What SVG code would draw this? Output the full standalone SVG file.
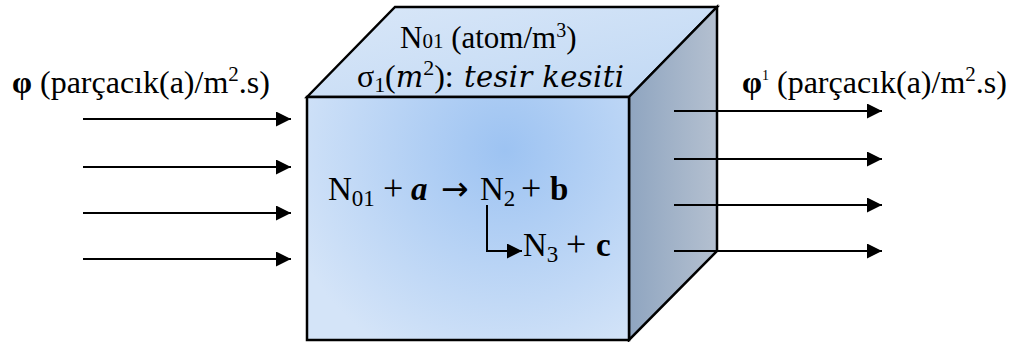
<svg xmlns="http://www.w3.org/2000/svg" width="1013" height="342" viewBox="0 0 1013 342">
<style>
.t{font-family:"Liberation Serif","Times New Roman",serif;fill:#000}
.m{font-family:"DejaVu Serif","Liberation Serif",serif;font-style:italic}
.ln{stroke:#000;stroke-width:2;fill:none}
.edge{stroke:#000;stroke-width:2.5;stroke-linejoin:miter}
</style>
<defs>
<marker id="ah" markerWidth="16" markerHeight="16" refX="15" refY="7.5" orient="auto" markerUnits="userSpaceOnUse">
<path d="M0,0 L15,7.5 L0,15 Z" fill="#000"/>
</marker>
<radialGradient id="gFront" cx="505" cy="150" r="230" gradientUnits="userSpaceOnUse">
<stop offset="0" stop-color="#9dc3f2"/>
<stop offset="1" stop-color="#d4e4f8"/>
</radialGradient>
<linearGradient id="gTop" x1="0" y1="0" x2="1" y2="1">
<stop offset="0" stop-color="#d9e7f8"/>
<stop offset="1" stop-color="#c0d8f4"/>
</linearGradient>
<linearGradient id="gSide" x1="0" y1="0" x2="1" y2="0">
<stop offset="0" stop-color="#8fa5c0"/>
<stop offset="1" stop-color="#b4c0d0"/>
</linearGradient>
</defs>
<g id="cube">
<polygon class="edge" points="307,97 395,7 717,7 629,97" fill="url(#gTop)"/>
<polygon class="edge" points="629,97 717,7 717,251 629,340" fill="url(#gSide)"/>
<rect class="edge" x="307" y="97" width="322" height="243" fill="url(#gFront)"/>
</g>
<g id="cube-labels">
<text class="t" x="400" y="48" font-size="31">N<tspan font-size="21">01</tspan> (atom/m<tspan font-size="20" dy="-11">3</tspan><tspan dy="11">)</tspan></text>
<text class="t" y="87" font-size="32"><tspan x="357">σ</tspan><tspan font-size="22" dy="5">1</tspan><tspan dy="-5" x="385">(</tspan><tspan class="m" font-size="29">m</tspan><tspan font-size="22" dy="-12">2</tspan><tspan dy="12">):</tspan><tspan x="464" class="m" font-size="29" textLength="160" lengthAdjust="spacing">tesir kesiti</tspan></text>
</g>
<g id="reaction">
<text class="t" y="200" font-size="33"><tspan x="328">N</tspan><tspan font-size="23" dy="6">01</tspan><tspan x="383" dy="-6" font-size="36">+</tspan><tspan x="411" font-weight="bold" font-style="italic">a</tspan><tspan x="441" font-family="DejaVu Sans, sans-serif" font-size="33">→</tspan><tspan x="480">N</tspan><tspan font-size="23" dy="6">2</tspan><tspan x="521" dy="-6" font-size="36">+</tspan><tspan x="550" font-weight="bold">b</tspan></text>
<text class="t" y="256" font-size="33"><tspan x="523">N</tspan><tspan font-size="23" dy="6">3</tspan><tspan x="566" dy="-6" font-size="36">+</tspan><tspan x="596" font-weight="bold">c</tspan></text>
</g>
<g id="flux-in">
<text class="t" x="12" y="93" font-size="32"><tspan font-weight="bold">φ</tspan> (parçacık(a)/m<tspan font-size="21" dy="-12">2</tspan><tspan dy="12">.s)</tspan></text>
</g>
<g id="flux-out">
<text class="t" x="742" y="93" font-size="32"><tspan font-weight="bold">φ</tspan><tspan font-size="14" dy="-13">1</tspan><tspan dy="13"> (parçacık(a)/m</tspan><tspan font-size="21" dy="-12">2</tspan><tspan dy="12">.s)</tspan></text>
</g>
<g id="connectors">
<line class="ln" x1="83" y1="119" x2="291" y2="119" marker-end="url(#ah)"/>
<line class="ln" x1="83" y1="167" x2="291" y2="167" marker-end="url(#ah)"/>
<line class="ln" x1="83" y1="213" x2="291" y2="213" marker-end="url(#ah)"/>
<line class="ln" x1="83" y1="259" x2="291" y2="259" marker-end="url(#ah)"/>
<line class="ln" x1="674" y1="111" x2="882" y2="111" marker-end="url(#ah)"/>
<line class="ln" x1="674" y1="159" x2="882" y2="159" marker-end="url(#ah)"/>
<line class="ln" x1="674" y1="205" x2="882" y2="205" marker-end="url(#ah)"/>
<line class="ln" x1="674" y1="251" x2="882" y2="251" marker-end="url(#ah)"/>
<polyline class="ln" points="487,205 487,251 522,251" marker-end="url(#ah)"/>
</g>
</svg>
